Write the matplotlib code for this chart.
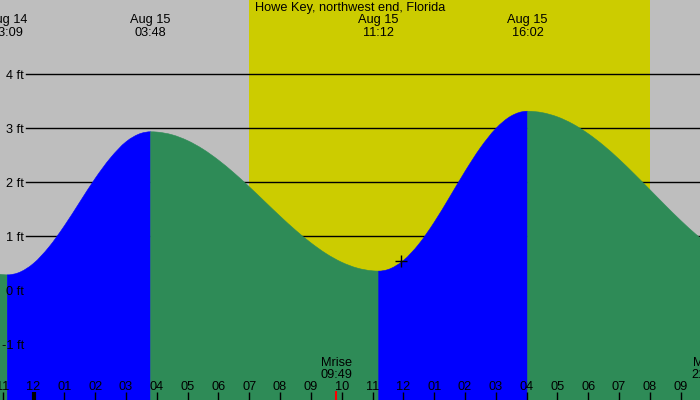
import numpy as np
import matplotlib
matplotlib.use('Agg')
import matplotlib.pyplot as plt
from matplotlib.path import Path
from matplotlib.patches import PathPatch

plt.rcParams['font.family'] = ['Liberation Sans', 'DejaVu Sans']

# hours from midnight Aug 15, tide height in ft
hours = [-1.5, -1.0, -0.85, -0.5, 0.0, 0.5, 1.0, 1.5, 2.0, 2.5, 3.0, 3.5, 3.8,
         4.0, 4.5, 5.0, 5.5, 6.0, 6.5, 7.0, 7.5, 8.0, 8.5, 9.0, 9.5, 10.0, 10.5, 11.0, 11.2,
         11.5, 12.0, 12.5, 13.0, 13.5, 14.0, 14.5, 15.0, 15.5, 16.0, 16.033,
         16.5, 17.0, 17.5, 18.0, 18.5, 19.0, 19.5, 20.0, 20.5, 21.0, 21.5, 22.0]
heights = [0.32, 0.285, 0.28, 0.317, 0.492, 0.795, 1.187, 1.627, 2.065, 2.448, 2.743, 2.903, 2.93,
           2.925, 2.874, 2.766, 2.608, 2.406, 2.171, 1.912, 1.640, 1.368, 1.109, 0.874, 0.672, 0.514, 0.407, 0.355, 0.35,
           0.378, 0.546, 0.848, 1.253, 1.718, 2.195, 2.633, 2.989, 3.223, 3.310, 3.31,
           3.285, 3.206, 3.074, 2.894, 2.675, 2.422, 2.146, 1.858, 1.568, 1.288, 1.028, 0.796]

# high / low tides
ext_hours = [-0.85, 3.8, 11.2, 16.033]
ext_days = ['Aug 14', 'Aug 15', 'Aug 15', 'Aug 15']
ext_times = ['23:09', '03:48', '11:12', '16:02']

sunrise, sunset = 7.0, 20.0
moon_hours = [9.82, 21.85]
moon_days = ['Mrise', 'Mset']
moon_times = ['09:49', '21:51']
now_hour, now_height = 11.93, 0.53

tick_hours = list(range(-1, 22))
tick_labels = ['%02d' % ((h - 1) % 12 + 1) for h in tick_hours]
grid_ft = [1, 2, 3, 4]
ft_labels = [4, 3, 2, 1, 0, -1]

t = np.array(hours)
h = np.array(heights)

def py(p):
    # pixel row -> feet
    return (290 - p) / 54.0

x0 = -33.5 / 30.82
x1 = (700 - 33.5) / 30.82
ybot, ytop = py(400), py(0)

fig = plt.figure(figsize=(7, 4), dpi=100, facecolor='#bebebe')
ax = fig.add_axes([0, 0, 1, 1])
ax.set_xlim(x0, x1)
ax.set_ylim(ybot, ytop)
ax.axis('off')

ax.axvspan(sunrise, sunset, color='#cccc00', lw=0, zorder=1)

gx = x0 + 26 / 30.82
for g in grid_ft:
    ax.plot([gx, x1], [g, g], color='black', lw=1, zorder=2)

# slopes for a smooth (bezier) outline, flat at highs and lows
slope = np.gradient(h, t)
for eh in ext_hours:
    slope[np.isclose(t, eh)] = 0.0

# water: rising blue, falling green
bounds = [t[0]] + ext_hours + [t[-1]]
colors = ['#2e8b57', '#0000ff', '#2e8b57', '#0000ff', '#2e8b57']
for i in range(len(bounds) - 1):
    idx = np.where((t >= bounds[i] - 1e-9) & (t <= bounds[i + 1] + 1e-9))[0]
    verts = [(t[idx[0]], ybot), (t[idx[0]], h[idx[0]])]
    codes = [Path.MOVETO, Path.LINETO]
    for a, b in zip(idx[:-1], idx[1:]):
        d = (t[b] - t[a]) / 3
        verts += [(t[a] + d, h[a] + slope[a] * d), (t[b] - d, h[b] - slope[b] * d), (t[b], h[b])]
        codes += [Path.CURVE4] * 3
    verts += [(t[idx[-1]], ybot), (t[idx[0]], ybot)]
    codes += [Path.LINETO, Path.CLOSEPOLY]
    ax.add_patch(PathPatch(Path(verts, codes), facecolor=colors[i], edgecolor=colors[i],
                           lw=0.4, zorder=3))

fs = 9.2
for f in ft_labels:
    ax.text(x0 + 24 / 30.82, py(290 - 54 * f + 5), '%d ft' % f, ha='right', va='baseline',
            fontsize=fs, zorder=5)

ax.text((x0 + x1) / 2, py(11.5), 'Howe Key, northwest end, Florida', ha='center', va='baseline',
        fontsize=fs, zorder=5)
for eh, d, tm in zip(ext_hours, ext_days, ext_times):
    ax.text(eh, py(23.5), d, ha='center', va='baseline', fontsize=fs, zorder=5)
    ax.text(eh, py(35.5), tm, ha='center', va='baseline', fontsize=fs, zorder=5)

for th, lab in zip(tick_hours, tick_labels):
    lw = 3 if th % 24 == 0 else 1
    ax.plot([th, th], [py(392), ybot], color='black', lw=lw, solid_capstyle='butt', zorder=4)
    ax.text(th, py(390), lab, ha='center', va='baseline', fontsize=fs, zorder=5)

ax.plot([moon_hours[0], moon_hours[0]], [py(392), ybot], color='red', lw=1.5, zorder=4)
for mh, md, mt in zip(moon_hours, moon_days, moon_times):
    ax.text(mh, py(366), md, ha='center', va='baseline', fontsize=fs, zorder=5)
    ax.text(mh, py(378), mt, ha='center', va='baseline', fontsize=fs, zorder=5)

ax.plot([now_hour], [now_height], marker='+', color='black', ms=9, mew=1, zorder=6)

fig.savefig('out.png', dpi=100, facecolor=fig.get_facecolor())
